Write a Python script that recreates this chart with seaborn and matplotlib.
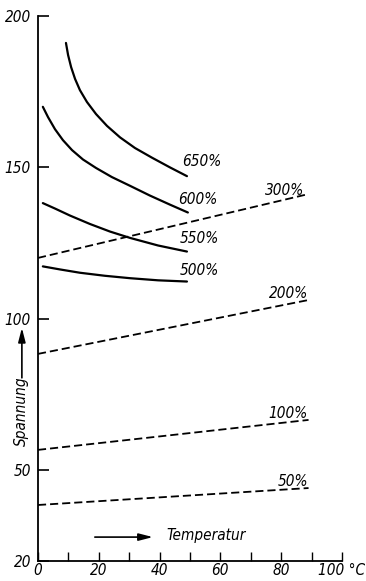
import matplotlib
matplotlib.use("Agg")
import matplotlib.pyplot as plt
from matplotlib import font_manager
import seaborn as sns

sns.set_theme(style="white")

# Prefer a narrow italic face for the lettering
_fonts = font_manager.fontManager.ttflist
def _has(name, stretch=None):
    return any(f.name == name and (stretch is None or f.stretch == stretch)
               for f in _fonts)

if _has("Liberation Sans Narrow"):
    family, stretch = "Liberation Sans Narrow", "normal"
elif _has("DejaVu Sans", "condensed"):
    family, stretch = "DejaVu Sans", "condensed"
elif _has("Roboto Condensed"):
    family, stretch = "Roboto Condensed", "normal"
else:
    family, stretch = "Liberation Sans", "normal"

plt.rcParams['font.family'] = [family, 'DejaVu Sans']
plt.rcParams['font.stretch'] = stretch
plt.rcParams['font.style'] = 'italic'
plt.rcParams['text.color'] = 'black'
plt.rcParams['xtick.color'] = 'black'
plt.rcParams['ytick.color'] = 'black'

# Stress vs. temperature at various elongations (solid: high elongation, dashed: low)
t650 = [9.2, 9.9, 10.9, 12.2, 13.8, 16.1, 19.1, 22.7, 27.0, 31.9, 37.5, 43.4, 49.0]
s650 = [191.1, 187.1, 183.1, 179.2, 175.5, 171.6, 167.6, 163.7, 159.9, 156.4, 153.2, 150.0, 147.1]
t600 = [1.6, 3.3, 5.6, 8.2, 11.2, 14.8, 19.1, 24.3, 30.3, 36.8, 43.4, 49.3]
s600 = [170.0, 166.6, 162.6, 159.0, 155.7, 152.6, 149.8, 146.8, 143.9, 140.7, 137.7, 135.1]
t550 = [1.6, 5.6, 10.5, 17.1, 23.7, 30.3, 39.5, 49.0]
s550 = [138.2, 136.4, 134.1, 131.3, 128.8, 126.7, 124.2, 122.2]
t500 = [1.6, 7.2, 13.8, 22.0, 30.3, 39.5, 49.0]
s500 = [117.3, 116.3, 115.2, 114.2, 113.4, 112.7, 112.3]

t_lin = [0, 89]
s300 = [120.1, 141.2]
s200 = [88.4, 106.2]
s100 = [56.7, 66.6]
s50 = [38.5, 44.1]

solid = [(t650, s650, "650%", (47.3, 151.9)),
         (t600, s600, "600%", (46.2, 139.5)),
         (t550, s550, "550%", (46.5, 126.6)),
         (t500, s500, "500%", (46.7, 116.1))]
dashed = [(t_lin, s300, "300%", (74.7, 142.3)),
          (t_lin, s200, "200%", (76.1, 108.4)),
          (t_lin, s100, "100%", (75.8, 68.8)),
          (t_lin, s50, "50%", (78.8, 46.2))]

x_ticks = [0, 20, 40, 60, 80, 100]
x_labels = ["0", "20", "40", "60", "80", "100 °C"]
y_ticks = [20, 50, 100, 150, 200]
y_labels = ["20", "50", "100", "150", "200"]

FS = 11

fig = plt.figure(figsize=(3.66, 5.81), dpi=100)
ax = fig.add_axes([0.1038, 0.0344, 0.8306, 0.9381])

for t, s, lab, pos in solid:
    sns.lineplot(x=t, y=s, ax=ax, color="black", linewidth=1.6)
    ax.text(pos[0], pos[1], lab, ha="left", va="center", fontsize=FS)
for t, s, lab, pos in dashed:
    sns.lineplot(x=t, y=s, ax=ax, color="black", linewidth=1.3,
                 linestyle=(0, (4.5, 2.2)))
    ax.text(pos[0], pos[1], lab, ha="left", va="center", fontsize=FS)

ax.set_xlim(0, 100)
ax.set_ylim(20, 200)
ax.set_xticks(x_ticks)
ax.set_xticklabels(x_labels, fontsize=FS)
ax.set_xticks([10, 30, 50, 70, 90], minor=True)
ax.set_yticks(y_ticks)
ax.set_yticklabels(y_labels, fontsize=FS)
ax.yaxis.get_major_ticks()[0].tick1line.set_visible(False)

ax.tick_params(axis="x", which="both", direction="in", length=6.5, width=1.0,
               bottom=True, pad=1.5)
ax.tick_params(axis="y", which="major", direction="in", length=8, width=1.2,
               left=True, pad=5)

for side in ["top", "right"]:
    ax.spines[side].set_visible(False)
for side in ["left", "bottom"]:
    ax.spines[side].set_color("black")
    ax.spines[side].set_linewidth(1.3)

ax.set_xlabel("")
ax.set_ylabel("")

# Axis captions with direction arrows
arrow = dict(arrowstyle="-|>,head_length=0.7,head_width=0.18", color="black",
             lw=1.2, shrinkA=0, shrinkB=0)
ax.annotate("", xy=(37.8, 27.9), xytext=(18.7, 27.9), arrowprops=arrow,
            annotation_clip=False)
ax.text(42.3, 28.3, "Temperatur", ha="left", va="center", fontsize=FS)

ax.annotate("", xy=(-5.3, 97.0), xytext=(-5.3, 80.5), arrowprops=arrow,
            annotation_clip=False)
ax.text(-5.3, 69.5, "Spannung", rotation=90, ha="center", va="center",
        fontsize=FS, clip_on=False)

fig.savefig("out.png", dpi=100)
